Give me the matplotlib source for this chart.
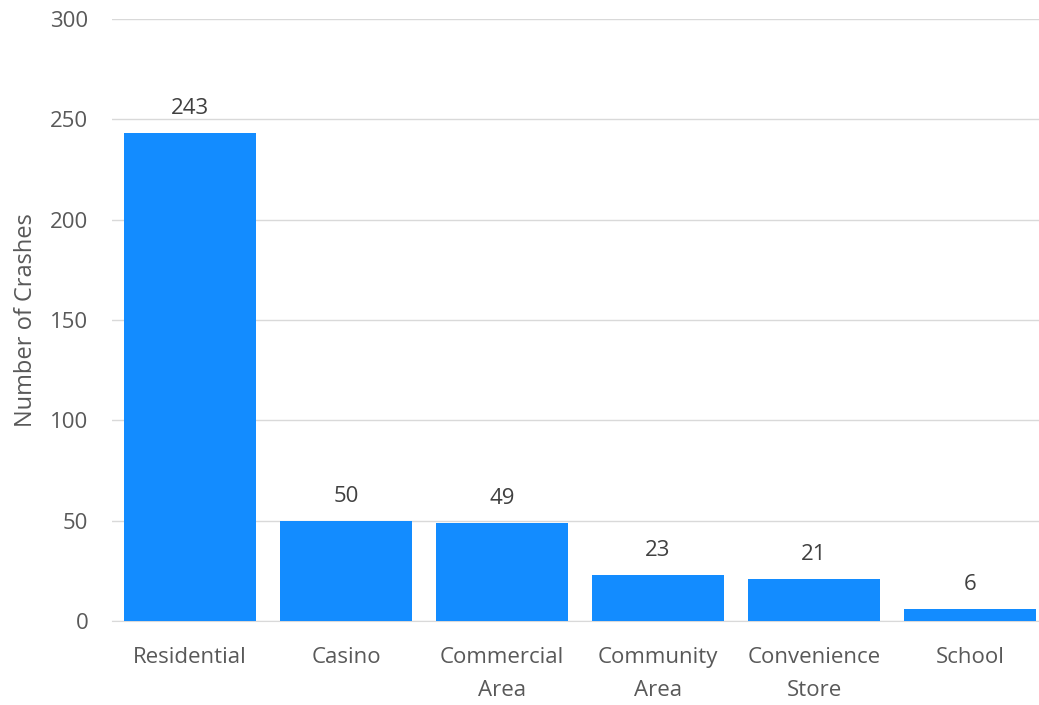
import matplotlib.pyplot as plt

plt.rcParams['font.family'] = ['Open Sans', 'DejaVu Sans']

categories = ['Residential', 'Casino', 'Commercial\nArea', 'Community\nArea', 'Convenience\nStore', 'School']
crashes = [243, 50, 49, 23, 21, 6]

fig = plt.figure(figsize=(10.39, 7.05), dpi=100)
ax = fig.add_axes([112 / 1039, 1 - 621 / 705, 936 / 1039, 602 / 705])

x = list(range(len(categories)))
bars = ax.bar(x, crashes, width=0.846, color='#138cff', zorder=3)
for b, v in zip(bars, crashes):
    ax.annotate(str(v), (b.get_x() + b.get_width() / 2, v), xytext=(0, 10),
                textcoords='offset points', ha='center', va='bottom',
                fontsize=16, color='#404040')

ax.set_xlim(-0.5, len(categories) - 0.5)
ax.set_ylim(0, 300)
ax.set_yticks(range(0, 301, 50))
ax.set_xticks(x)
ax.set_xticklabels(categories, fontsize=16, color='#595959', linespacing=1.75)
ax.tick_params(axis='y', labelsize=16, labelcolor='#595959', length=0, pad=17)
ax.tick_params(axis='x', length=0, pad=19)
ax.grid(axis='y', color='#d9d9d9', linewidth=1, zorder=0)
for s in ['top', 'right', 'left']:
    ax.spines[s].set_visible(False)
ax.spines['bottom'].set_color('#d9d9d9')
ax.set_ylabel('Number of Crashes', fontsize=17, color='#595959', labelpad=9)

fig.savefig('out.png', dpi=100)
